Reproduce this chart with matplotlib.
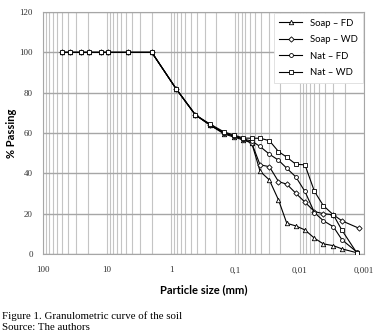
import matplotlib
matplotlib.use("Agg")
import matplotlib.pyplot as plt
import matplotlib.ticker as mtick

# sieve part (mm, % passing)
sieve_mm = [50, 38.1, 25, 19, 12.5, 9.5, 4.75, 2.0, 0.84, 0.42, 0.25, 0.15, 0.106, 0.075]
sieve_soap_fd = [100, 100, 100, 100, 100, 100, 100, 100, 82, 69, 64, 59.5, 58, 56.5]
sieve_soap_wd = [100, 100, 100, 100, 100, 100, 100, 100, 82, 69, 64, 60, 58.5, 57]
sieve_nat_fd = [100, 100, 100, 100, 100, 100, 100, 100, 82, 69, 64, 60, 58.5, 57]
sieve_nat_wd = [100, 100, 100, 100, 100, 100, 100, 100, 82, 69, 64.5, 60.5, 59, 57.5]

# hydrometer part
hyd_mm = [0.0558, 0.0414, 0.0297, 0.0214, 0.0159, 0.0115, 0.0083, 0.0059, 0.0043, 0.0030, 0.0022, 0.0013]
hyd_mm_soap_wd = [0.0558, 0.0414, 0.0297, 0.0214, 0.0159, 0.0115, 0.0083, 0.0059, 0.0043, 0.0030, 0.0022, 0.00121]
hyd_soap_fd = [55, 41, 36.7, 26.8, 15.2, 13.9, 11.9, 7.8, 5, 4.1, 2.5, 0.6]
hyd_soap_wd = [55, 44.2, 43.3, 35.9, 34.6, 30.1, 25.7, 21, 20, 19.4, 16.4, 12.8]
hyd_nat_fd = [56, 53.3, 49.5, 46.5, 42.5, 38.2, 31, 20.5, 16.5, 13.5, 7, 1.0]
hyd_nat_wd = [57.4, 57.4, 56.2, 50.8, 48.0, 44.5, 44.2, 31.0, 24.0, 19.4, 11.7, 0.6]

labels = ["Soap \u2013 FD", "Soap \u2013 WD", "Nat \u2013 FD", "Nat \u2013 WD"]
markers = ["^", "D", "o", "s"]
msizes = [3.2, 2.7, 2.8, 3.1]

series = [
    (sieve_mm + hyd_mm, sieve_soap_fd + hyd_soap_fd),
    (sieve_mm + hyd_mm_soap_wd, sieve_soap_wd + hyd_soap_wd),
    (sieve_mm + hyd_mm, sieve_nat_fd + hyd_nat_fd),
    (sieve_mm + hyd_mm, sieve_nat_wd + hyd_nat_wd),
]

fig = plt.figure(figsize=(3.8, 3.35), dpi=100)
ax = fig.add_axes([0.112, 0.242, 0.846, 0.722])

for (x, y), lab, mk, ms in zip(series, labels, markers, msizes):
    ax.plot(x, y, color='black', linewidth=0.8, marker=mk, markersize=ms,
            markerfacecolor='white', markeredgecolor='black', markeredgewidth=0.6,
            label=lab, zorder=3)

ax.set_xscale('log')
ax.set_xlim(100, 0.001)
ax.set_ylim(0, 120)
ax.set_yticks([0, 20, 40, 60, 80, 100, 120])
ax.xaxis.set_minor_locator(mtick.LogLocator(base=10, subs=range(2, 10), numticks=50))
ax.xaxis.set_minor_formatter(mtick.NullFormatter())
xt = {100: "100", 10: "10", 1: "1", 0.1: "0,1", 0.01: "0,01", 0.001: "0,001"}
ax.set_xticks(list(xt.keys()))
ax.set_xticklabels(list(xt.values()))

ax.grid(True, axis='x', which='both', color='#c4c4c4', linewidth=0.8)
ax.grid(True, axis='y', which='major', color='#a6a6a6', linewidth=1.0)
ax.set_axisbelow(True)
ax.tick_params(which='both', length=0)
ax.tick_params(axis='x', pad=9)
ax.tick_params(axis='y', pad=7)
for lb in ax.get_xticklabels() + ax.get_yticklabels():
    lb.set_family('Liberation Serif')
    lb.set_fontsize(6.5)
    lb.set_color('#333333')
for s in ax.spines.values():
    s.set_color('#a6a6a6')
    s.set_linewidth(0.8)

ax.set_xlabel("Particle size (mm)", family='Lato', fontweight='bold', fontsize=8, labelpad=7)
ax.set_ylabel("% Passing", family='Lato', fontweight='bold', fontsize=8, labelpad=2)

leg = ax.legend(loc='upper right', bbox_to_anchor=(1.0, 1.0), prop={'family': 'Lato', 'size': 6.8},
                frameon=True, fancybox=False, handlelength=2.4, labelspacing=0.8,
                borderpad=0.6, borderaxespad=0.1)
leg.get_frame().set_edgecolor('#dddddd')
leg.get_frame().set_linewidth(0.6)
leg.get_frame().set_alpha(1)

fig.text(0.005, 0.057, "Figure 1. Granulometric curve of the soil", family='Liberation Serif', fontsize=7.8, va='center')
fig.text(0.005, 0.022, "Source: The authors", family='Liberation Serif', fontsize=7.8, va='center')

fig.savefig('out.png', dpi=100)
